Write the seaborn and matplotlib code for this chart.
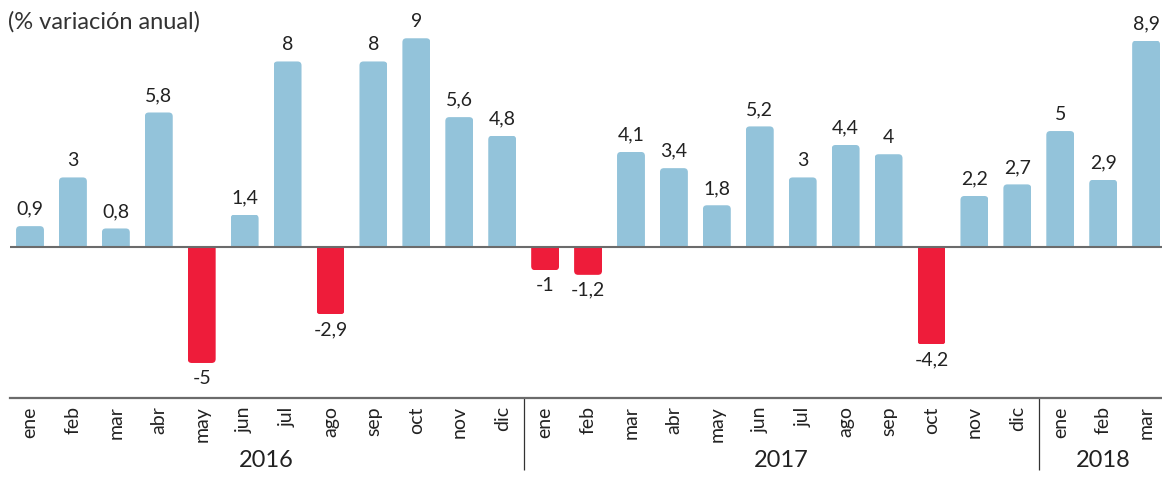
import pandas as pd
import matplotlib
matplotlib.use("Agg")
import matplotlib.pyplot as plt
import seaborn as sns
from matplotlib.patches import FancyBboxPatch, Rectangle

# datos
meses = ["ene", "feb", "mar", "abr", "may", "jun", "jul", "ago", "sep", "oct", "nov", "dic",
         "ene", "feb", "mar", "abr", "may", "jun", "jul", "ago", "sep", "oct", "nov", "dic",
         "ene", "feb", "mar"]
anios = ["2016"] * 12 + ["2017"] * 12 + ["2018"] * 3
valores = [0.9, 3, 0.8, 5.8, -5, 1.4, 8, -2.9, 8, 9, 5.6, 4.8,
           -1, -1.2, 4.1, 3.4, 1.8, 5.2, 3, 4.4, 4, -4.2, 2.2, 2.7,
           5, 2.9, 8.9]
titulo = "(% variación anual)"

AZUL = "#93c3da"
ROJO = "#ee1c3a"
GRIS = "#6b6b6b"

df = pd.DataFrame({"mes": meses, "anio": anios, "valor": valores})
df["clave"] = df["anio"] + "-" + df["mes"]
df["signo"] = ["pos" if v >= 0 else "neg" for v in df["valor"]]

sns.set_style("white")
plt.rcParams["font.family"] = ["Lato", "DejaVu Sans"]

fig = plt.figure(figsize=(11.62, 4.78), dpi=100)
ax = fig.add_axes([10 / 1162, 80 / 478, 1152 / 1162, 398 / 478])

sns.barplot(data=df, x="clave", y="valor", hue="signo", order=list(df["clave"]),
            palette={"pos": AZUL, "neg": ROJO}, dodge=False, legend=False,
            width=0.65, saturation=1, ax=ax)

ax.set_xlim(-0.466, 26.37)
ax.set_ylim(-6.51, 10.65)

# esquinas redondeadas en el extremo de cada barra
r = 0.093
asp = 1.85
for p in list(ax.patches):
    x, y, w, h = p.get_x(), p.get_y(), p.get_width(), p.get_height()
    fc = p.get_facecolor()
    y0, y1 = min(y, y + h), max(y, y + h)
    clip = Rectangle((x, y0), w, y1 - y0, transform=ax.transData)
    if y1 > 0:
        box = FancyBboxPatch((x, y0 - 0.5), w, y1 - y0 + 0.5,
                             boxstyle=f"round,pad=0,rounding_size={r}",
                             mutation_aspect=asp, fc=fc, ec="none")
    else:
        box = FancyBboxPatch((x, y0), w, y1 - y0 + 0.5,
                             boxstyle=f"round,pad=0,rounding_size={r}",
                             mutation_aspect=asp, fc=fc, ec="none")
    p.remove()
    ax.add_patch(box)
    box.set_clip_path(clip)

# etiquetas de valor
for i, v in enumerate(valores):
    txt = f"{v:g}".replace(".", ",")
    if v >= 0:
        ax.annotate(txt, (i, v), xytext=(0, 6), textcoords="offset points",
                    ha="center", va="bottom", fontsize=14, color="#222222")
    else:
        ax.annotate(txt, (i, v), xytext=(0, -5), textcoords="offset points",
                    ha="center", va="top", fontsize=14, color="#222222")

ax.axhline(0, color=GRIS, lw=1.5, zorder=5)

# eje x
ax.set_xlabel("")
ax.set_ylabel("")
ax.set_yticks([])
ax.set_xticks(range(len(meses)))
ax.set_xticklabels(meses, rotation=90, fontsize=14, color="#222222")
ax.tick_params(axis="x", which="major", length=0, pad=6)
sep = [i + 0.5 for i in range(len(meses) - 1) if anios[i] == anios[i + 1]]
ax.set_xticks(sep, minor=True)
ax.tick_params(axis="x", which="minor", length=28, width=0.9, color="#333333")

for s in ["top", "left", "right"]:
    ax.spines[s].set_visible(False)
ax.spines["bottom"].set_color(GRIS)
ax.spines["bottom"].set_linewidth(1.6)

# separadores y nombres de año
trans = ax.get_xaxis_transform()
cortes = [i + 0.5 for i in range(len(meses) - 1) if anios[i] != anios[i + 1]]
ax.vlines(cortes, -0.181, 0, transform=trans, color="#333333", lw=0.9, clip_on=False)
for a in sorted(set(anios)):
    idx = [i for i, x in enumerate(anios) if x == a]
    ax.text((idx[0] + idx[-1]) / 2, -0.156, a, transform=trans, ha="center", va="center",
            fontsize=17, color="#222222")

fig.text(8 / 1162, 1 - 22 / 478, titulo, ha="left", va="center", fontsize=17, color="#333333")

fig.savefig("out.png", dpi=100)
